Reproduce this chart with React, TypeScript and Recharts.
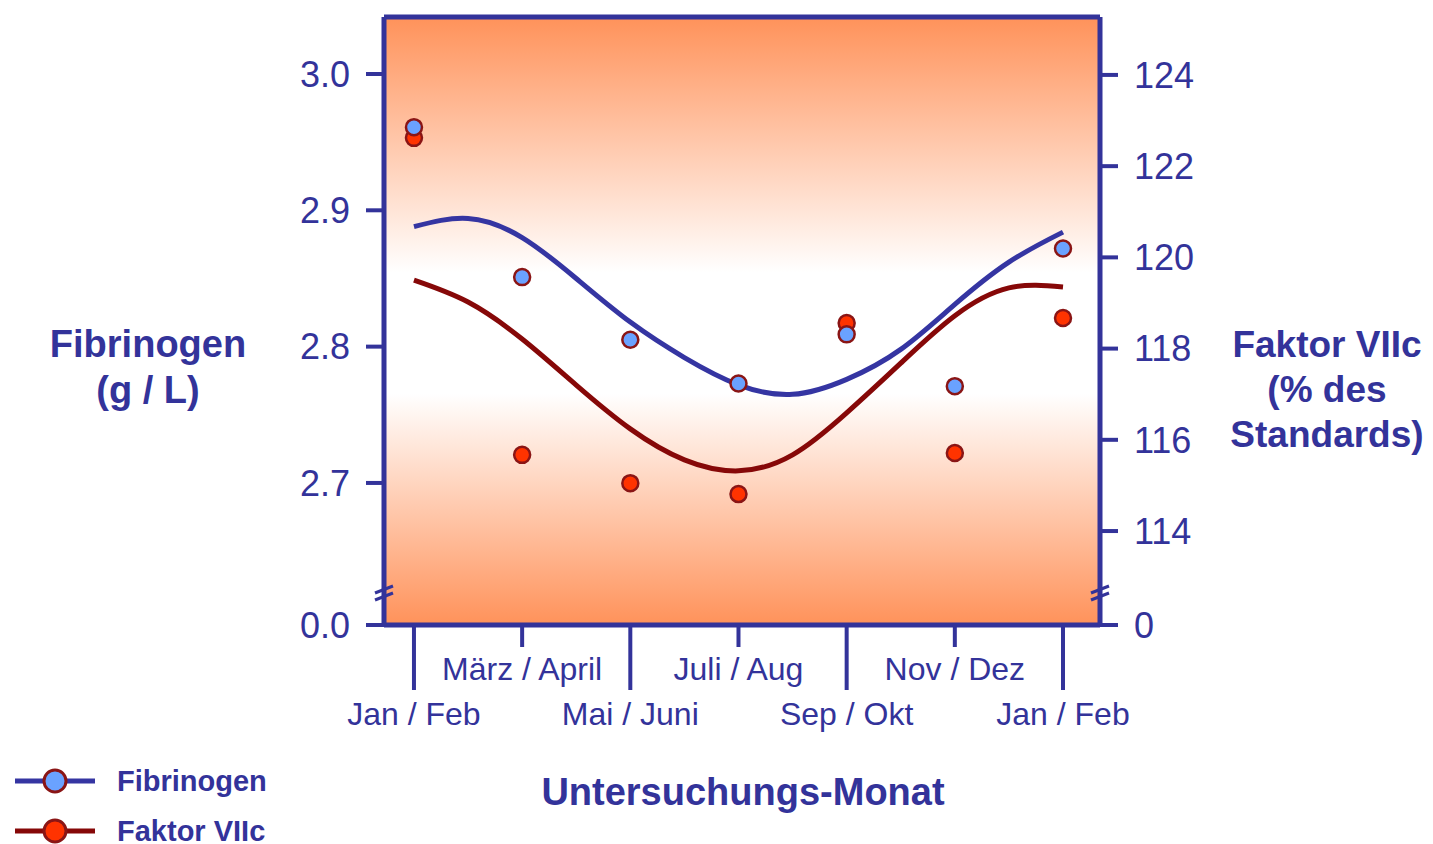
import React from "react";
import {
  ComposedChart,
  Line,
  XAxis,
  YAxis,
  CartesianGrid,
  ReferenceLine,
  Legend,
} from "recharts";

// ---------- data ----------
const months = [
  "Jan / Feb",
  "März / April",
  "Mai / Juni",
  "Juli / Aug",
  "Sep / Okt",
  "Nov / Dez",
  "Jan / Feb",
];
const monthIndex = [0, 1, 2, 3, 4, 5, 6];

// measured points
const fibrinogenPoints = [2.961, 2.851, 2.805, 2.773, 2.809, 2.771, 2.872];
const faktorPoints = [122.62, 115.67, 115.05, 114.81, 118.56, 115.71, 118.67];

// fitted curves, read at half-month steps
const curveX = [0, 0.5, 1, 1.5, 2, 2.5, 3, 3.5, 4, 4.5, 5, 5.5, 6];
const fibrinogenCurve = [
  2.888, 2.894, 2.88, 2.85, 2.818, 2.792, 2.772, 2.765, 2.776, 2.798, 2.831,
  2.862, 2.884,
];
const faktorCurve = [
  119.5, 119.02, 118.21, 117.2, 116.24, 115.56, 115.32, 115.67, 116.59, 117.68,
  118.72, 119.33, 119.35,
];

// axes (broken axes: lowest tick is labelled 0)
const leftTicks = [2.5958, 2.7, 2.8, 2.9, 3.0];
const leftTickLabels = ["0.0", "2.7", "2.8", "2.9", "3.0"];
const leftDomain = [2.5958, 3.0418];
const rightTicks = [111.94, 114, 116, 118, 120, 122, 124];
const rightTickLabels = ["0", "114", "116", "118", "120", "122", "124"];
const rightDomain = [111.94, 125.27];
const xDomain = [-0.277, 6.342];

const seriesNames = ["Fibrinogen", "Faktor VIIc"];
const leftTitle = ["Fibrinogen", "(g / L)"];
const rightTitle = ["Faktor VIIc", "(% des", "Standards)"];
const xTitle = "Untersuchungs-Monat";

// ---------- styles ----------
const NAVY = "#33339a";
const BLUE_LINE = "#3535a2";
const RED_LINE = "#860808";
const BLUE_FILL = "#6aa2ff";
const RED_FILL = "#ff3300";
const DOT_STROKE = "#8a1515";
const FONT = "'Liberation Sans', Arial, sans-serif";

const tableData = curveX.map((x, k) => {
  const isInt = Number.isInteger(x);
  return {
    x,
    fibCurve: fibrinogenCurve[k],
    fakCurve: faktorCurve[k],
    fibPt: isInt ? fibrinogenPoints[x] : null,
    fakPt: isInt ? faktorPoints[x] : null,
  };
});

const BreakMark = ({ ax, ay }: { ax: number; ay: number }) => (
  <g stroke={NAVY} strokeWidth={3} fill="none">
    <line x1={ax - 9} y1={ay + 1} x2={ax + 9} y2={ay - 6} />
    <line x1={ax - 9} y1={ay + 8} x2={ax + 9} y2={ay + 1} />
  </g>
);

const LeftTick = (props: any) => {
  const { x, y, payload } = props;
  const i = leftTicks.indexOf(payload.value);
  const label = i >= 0 ? leftTickLabels[i] : String(payload.value);
  const ax = x + 18 + 16;
  return (
    <g>
      <text
        x={x}
        y={y}
        dy="0.355em"
        textAnchor="end"
        fill={NAVY}
        fontSize={36}
        fontFamily={FONT}
      >
        {label}
      </text>
      {i === 0 && <BreakMark ax={ax} ay={y - 33} />}
    </g>
  );
};

const RightTick = (props: any) => {
  const { x, y, payload } = props;
  const i = rightTicks.indexOf(payload.value);
  const label = i >= 0 ? rightTickLabels[i] : String(payload.value);
  const ax = x - 18 - 16;
  return (
    <g>
      <text
        x={x}
        y={y}
        dy="0.355em"
        textAnchor="start"
        fill={NAVY}
        fontSize={36}
        fontFamily={FONT}
      >
        {label}
      </text>
      {i === 0 && <BreakMark ax={ax} ay={y - 33} />}
    </g>
  );
};

const XTick = (props: any) => {
  const { x, y, payload } = props;
  const i = payload.value as number;
  const lower = i % 2 === 0;
  return (
    <g>
      <line
        x1={x}
        y1={y}
        x2={x}
        y2={y + (lower ? 65 : 22)}
        stroke={NAVY}
        strokeWidth={4}
      />
      <text
        x={x}
        y={y + (lower ? 100 : 55)}
        textAnchor="middle"
        fill={NAVY}
        fontSize={32}
        fontFamily={FONT}
      >
        {months[i]}
      </text>
    </g>
  );
};

const titleStyle = {
  fill: NAVY,
  fontSize: 38,
  fontWeight: 700,
  fontFamily: FONT,
} as const;

const LeftTitle = () => (
  <g>
    {leftTitle.map((t, k) => (
      <text key={k} x={140} y={349 + k * 46} textAnchor="middle" {...titleStyle}>
        {t}
      </text>
    ))}
  </g>
);

const RightTitle = () => (
  <g>
    {rightTitle.map((t, k) => (
      <text
        key={k}
        x={1319}
        y={349 + k * 45}
        textAnchor="middle"
        {...titleStyle}
        fontSize={37}
      >
        {t}
      </text>
    ))}
  </g>
);

const XTitle = () => (
  <text x={735} y={797} textAnchor="middle" {...titleStyle}>
    {xTitle}
  </text>
);

const LegendContent = () => (
  <svg width={320} height={89} style={{ display: "block" }}>
    {seriesNames.map((name, k) => {
      const cy = 26 + k * 50;
      const lineColor = k === 0 ? BLUE_LINE : RED_LINE;
      const fill = k === 0 ? BLUE_FILL : RED_FILL;
      return (
        <g key={name}>
          <line x1={7} y1={cy} x2={87} y2={cy} stroke={lineColor} strokeWidth={5} />
          <circle cx={47} cy={cy} r={11} fill={fill} stroke={DOT_STROKE} strokeWidth={3} />
          <text
            x={109}
            y={cy + 10}
            fill={NAVY}
            fontSize={29}
            fontWeight={700}
            fontFamily={FONT}
          >
            {name}
          </text>
        </g>
      );
    })}
  </svg>
);

export default function App() {
  return (
    <div style={{ width: 1417, height: 836 }}>
      <ComposedChart
        width={1417}
        height={836}
        data={tableData}
        margin={{ top: 9, right: 225, bottom: 19, left: 276 }}
      >
        <defs>
          <linearGradient id="bgGrad" x1="0" y1="0" x2="0" y2="1">
            <stop offset="0" stopColor="#ff925a" />
            <stop offset="0.42" stopColor="#ffffff" />
            <stop offset="0.62" stopColor="#ffffff" />
            <stop offset="1" stopColor="#ff925a" />
          </linearGradient>
        </defs>
        <CartesianGrid
          yAxisId="left"
          horizontal={false}
          vertical={false}
          fill="url(#bgGrad)"
          fillOpacity={1}
          stroke="none"
        />
        <XAxis
          dataKey="x"
          type="number"
          domain={xDomain}
          ticks={monthIndex}
          allowDataOverflow
          height={200}
          tickLine={false}
          tickSize={0}
          tickMargin={0}
          axisLine={{ stroke: NAVY, strokeWidth: 5 }}
          tick={<XTick />}
          interval={0}
          label={() => <XTitle />}
        />
        <YAxis
          yAxisId="left"
          orientation="left"
          type="number"
          domain={leftDomain}
          ticks={leftTicks}
          allowDataOverflow
          width={100}
          tickSize={18}
          tickMargin={16}
          tickLine={{ stroke: NAVY, strokeWidth: 4 }}
          axisLine={{ stroke: NAVY, strokeWidth: 5 }}
          tick={<LeftTick />}
          interval={0}
          label={() => <LeftTitle />}
        />
        <YAxis
          yAxisId="right"
          orientation="right"
          type="number"
          domain={rightDomain}
          ticks={rightTicks}
          allowDataOverflow
          width={100}
          tickSize={18}
          tickMargin={16}
          tickLine={{ stroke: NAVY, strokeWidth: 4 }}
          axisLine={{ stroke: NAVY, strokeWidth: 5 }}
          tick={<RightTick />}
          interval={0}
          label={() => <RightTitle />}
        />
        <ReferenceLine
          yAxisId="left"
          y={leftDomain[1]}
          stroke={NAVY}
          strokeWidth={5}
        />
        <Line
          yAxisId="left"
          dataKey="fibCurve"
          name={seriesNames[0]}
          type="natural"
          stroke={BLUE_LINE}
          strokeWidth={5}
          dot={false}
          activeDot={false}
          isAnimationActive={false}
        />
        <Line
          yAxisId="right"
          dataKey="fakCurve"
          name={seriesNames[1]}
          type="natural"
          stroke={RED_LINE}
          strokeWidth={5}
          dot={false}
          activeDot={false}
          isAnimationActive={false}
        />
        <Line
          yAxisId="right"
          dataKey="fakPt"
          legendType="none"
          stroke="none"
          strokeWidth={0}
          dot={{ r: 8, fill: RED_FILL, stroke: DOT_STROKE, strokeWidth: 2.5, fillOpacity: 1 }}
          activeDot={false}
          isAnimationActive={false}
        />
        <Line
          yAxisId="left"
          dataKey="fibPt"
          legendType="none"
          stroke="none"
          strokeWidth={0}
          dot={{ r: 8, fill: BLUE_FILL, stroke: DOT_STROKE, strokeWidth: 2.5, fillOpacity: 1 }}
          activeDot={false}
          isAnimationActive={false}
        />
        <Legend
          layout="vertical"
          align="center"
          verticalAlign="middle"
          wrapperStyle={{ left: 0, top: 747, width: 320, height: 89 }}
          content={() => <LegendContent />}
        />
      </ComposedChart>
    </div>
  );
}
